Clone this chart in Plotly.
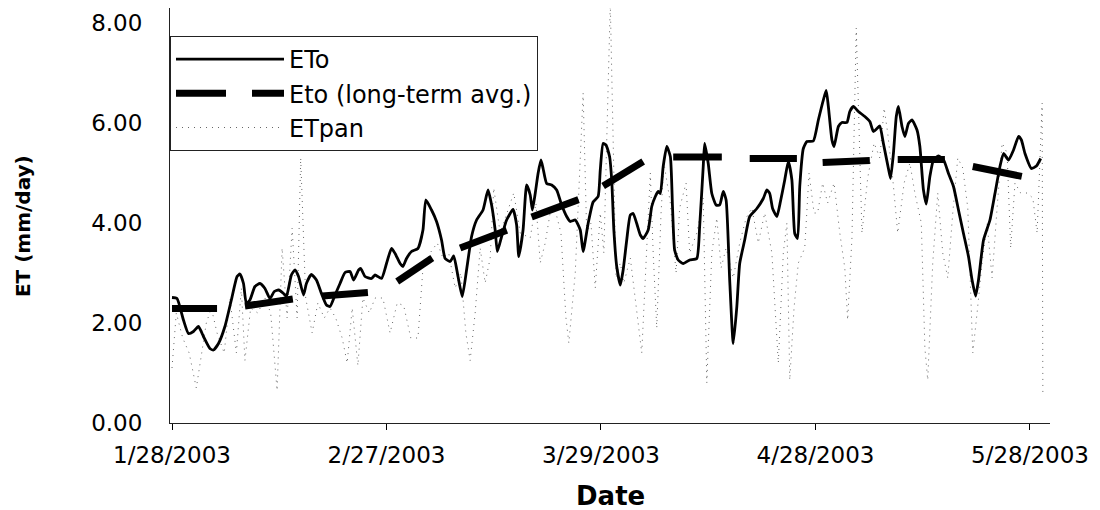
import pandas as pd
import plotly.graph_objects as go

# ---------------- data (days after 1/28/2003, mm/day) ----------------
eto_day = [0.0, 0.7, 1.6, 2.3, 3.0, 3.7, 4.4, 5.3, 5.8, 6.5, 7.4, 8.3, 9.1, 9.5, 10.0, 10.4, 10.9,
           11.6, 12.3, 13.0, 13.7, 14.3, 14.9, 15.6, 16.0, 16.7, 17.2, 17.7, 18.4, 18.8, 19.5, 20.2,
           20.9, 21.6, 22.1, 22.8, 23.5, 24.2, 24.9, 25.4, 26.1, 26.4, 27.0, 27.9, 28.4, 29.3, 30.0,
           30.7, 31.2, 31.9, 32.3, 32.8, 33.5, 34.4, 35.1, 35.5, 36.3, 37.0, 37.7, 38.2, 38.9, 39.4,
           40.0, 40.6, 41.2, 41.9, 42.6, 43.5, 44.2, 44.7, 45.2, 45.5, 46.1, 46.8, 47.7, 48.2, 48.5,
           49.1, 49.6, 50.1, 50.4, 50.8, 51.2, 51.6, 51.9, 52.4, 53.1, 53.8, 54.5, 55.2, 55.7, 56.4,
           57.1, 57.5, 58.2, 58.9, 59.6, 59.9, 60.3, 60.7, 61.2, 61.5, 61.8, 62.2, 62.7, 63.1, 63.6,
           64.1, 64.5, 65.0, 65.5, 65.9, 66.6, 67.1, 67.6, 68.0, 68.3, 68.7, 69.2, 69.7, 70.0, 70.3,
           70.8, 71.5, 72.4, 73.4, 73.8, 74.3, 74.5, 75.0, 75.5, 76.1, 76.6, 77.1, 77.5, 78.0, 78.5,
           79.0, 79.4, 80.1, 80.8, 81.8, 82.7, 83.2, 83.6, 84.0, 84.6, 85.1, 85.7, 86.2, 86.7, 87.1,
           87.5, 87.8, 88.3, 88.8, 89.7, 90.4, 91.1, 91.5, 91.8, 92.3, 92.6, 93.2, 93.7, 94.4, 94.8,
           95.3, 96.0, 96.9, 97.6, 98.1, 98.6, 99.0, 99.5, 100.2, 100.5, 100.9, 101.3, 101.6, 102.1,
           102.5, 103.0, 103.5, 104.2, 104.6, 105.1, 105.5, 106.0, 106.5, 107.2, 107.9, 108.6, 109.3,
           110.0, 110.7, 111.4, 111.9, 112.4, 112.8, 113.5, 114.4, 115.1, 115.8, 116.3, 117.0, 117.7,
           118.4, 118.8, 119.3, 120.2, 120.9, 121.5]
eto_val = [2.51, 2.49, 2.06, 1.79, 1.83, 1.93, 1.73, 1.49, 1.46, 1.59, 1.93, 2.46, 2.93, 2.98, 2.79,
           2.39, 2.46, 2.73, 2.79, 2.69, 2.49, 2.63, 2.66, 2.59, 2.53, 2.96, 3.06, 2.93, 2.56, 2.79,
           2.97, 2.86, 2.59, 2.36, 2.33, 2.56, 2.79, 3.01, 3.03, 2.86, 3.06, 3.09, 2.93, 2.89, 2.96,
           2.89, 3.19, 3.49, 3.39, 3.19, 3.13, 3.29, 3.43, 3.49, 3.86, 4.46, 4.26, 4.03, 3.66, 3.29,
           3.23, 3.34, 2.93, 2.53, 3.06, 3.73, 4.06, 4.26, 4.66, 4.36, 3.86, 3.43, 3.73, 4.06, 4.27,
           3.96, 3.33, 3.86, 4.76, 4.56, 4.26, 4.59, 4.99, 5.26, 5.09, 4.79, 4.76, 4.66, 4.36, 4.13,
           4.03, 4.06, 3.86, 3.43, 3.99, 4.42, 4.53, 5.06, 5.59, 5.56, 5.33, 4.86, 3.86, 3.13, 2.76,
           3.06, 3.66, 4.16, 4.19, 3.99, 3.76, 3.69, 3.86, 4.33, 4.53, 4.63, 4.59, 5.13, 5.53, 5.33,
           4.33, 3.46, 3.26, 3.19, 3.26, 3.29, 3.93, 5.13, 5.59, 5.19, 4.59, 4.36, 4.36, 4.63, 4.46,
           2.86, 1.59, 2.33, 3.19, 3.66, 4.13, 4.29, 4.49, 4.66, 4.59, 4.29, 4.13, 4.43, 4.86, 5.23,
           4.86, 3.79, 3.69, 4.73, 5.49, 5.63, 5.64, 6.06, 6.46, 6.65, 6.33, 5.66, 5.53, 5.93, 6.01,
           6.01, 6.23, 6.33, 6.23, 6.13, 6.03, 5.83, 5.89, 5.94, 5.59, 5.09, 4.89, 5.39, 6.13, 6.33,
           5.93, 5.73, 5.99, 6.06, 5.86, 5.53, 4.66, 4.38, 4.93, 5.26, 5.34, 5.27, 4.99, 4.73, 4.26,
           3.79, 3.33, 2.86, 2.54, 2.86, 3.66, 4.06, 4.59, 5.13, 5.39, 5.26, 5.46, 5.73, 5.66, 5.39,
           5.09, 5.14, 5.29]

# long-term average: dash pieces (start day, end day, start value, end value)
avg_start_day = [0.0, 10.2, 21.0, 31.5, 40.3, 50.3, 60.3, 70.1, 80.8, 91.0, 101.5, 112.0]
avg_end_day = [6.3, 16.9, 27.4, 36.4, 46.9, 57.1, 65.9, 76.9, 87.4, 97.6, 108.1, 118.9]
avg_start_val = [2.29, 2.34, 2.54, 2.83, 3.50, 4.12, 4.74, 5.32, 5.29, 5.21, 5.27, 5.13]
avg_end_val = [2.29, 2.48, 2.61, 3.30, 3.86, 4.48, 5.23, 5.32, 5.29, 5.25, 5.27, 4.93]

pan_day = [0.0, 0.6, 1.5, 2.4, 3.4, 4.1, 4.8, 5.5, 6.3, 7.3, 8.1, 9.0, 9.7, 10.2, 11.0, 12.0, 13.0,
           13.8, 14.7, 15.4, 16.1, 16.8, 17.5, 18.0, 18.7, 19.6, 20.4, 21.3, 22.1, 22.9, 23.8, 24.5,
           25.2, 26.0, 26.7, 27.6, 28.4, 29.5, 30.5, 31.5, 32.4, 33.4, 34.4, 35.1, 36.1, 37.1, 37.9,
           38.7, 39.6, 40.4, 41.1, 41.7, 42.4, 43.1, 43.8, 44.5, 45.0, 45.9, 46.9, 47.8, 48.7, 50.1,
           50.9, 51.5, 52.2, 53.0, 53.7, 54.4, 55.1, 55.5, 56.4, 57.5, 58.0, 58.6, 59.2, 59.9, 60.4,
           61.3, 62.1, 62.7, 63.2, 64.1, 65.2, 65.7, 66.3, 66.9, 67.3, 67.8, 68.4, 68.8, 69.7, 70.5,
           71.0, 71.9, 72.4, 73.4, 74.3, 74.8, 75.5, 76.2, 76.8, 77.5, 78.5, 79.4, 80.3, 81.1, 82.0,
           82.9, 83.9, 84.8, 85.5, 86.0, 86.4, 87.0, 87.6, 88.5, 89.1, 89.8, 90.3, 91.0, 91.7, 92.6,
           93.4, 94.1, 94.5, 95.1, 95.7, 96.5, 97.3, 98.2, 99.0, 99.6, 100.1, 100.8, 101.5, 102.4,
           103.2, 103.9, 104.8, 105.3, 105.7, 106.4, 107.1, 107.8, 108.5, 109.2, 109.9, 110.6, 111.3,
           112.0, 112.6, 113.3, 114.0, 114.7, 115.4, 116.1, 116.8, 117.3, 117.9, 118.7, 119.6, 120.4,
           121.0, 121.7, 121.8]
pan_val = [1.1, 2.2, 1.7, 1.4, 0.7, 1.4, 2.0, 2.3, 1.8, 1.4, 2.5, 1.4, 2.7, 1.25, 2.3, 2.2, 2.5,
           2.2, 0.65, 3.5, 2.1, 3.9, 2.1, 5.3, 2.5, 1.8, 2.4, 2.1, 2.3, 2.1, 1.7, 1.2, 2.3, 1.15, 2.5,
           2.2, 2.5, 2.5, 1.8, 2.4, 2.35, 1.7, 1.7, 3.1, 3.4, 3.6, 3.3, 3.4, 2.7, 3.0, 1.8, 1.25, 2.2,
           3.5, 2.8, 3.3, 4.7, 3.8, 4.2, 4.6, 3.8, 3.7, 4.4, 3.2, 3.6, 4.3, 4.2, 3.8, 2.1, 1.6, 3.0,
           6.6, 3.8, 4.0, 2.7, 4.2, 3.4, 8.4, 2.9, 3.2, 2.8, 3.3, 2.0, 1.4, 3.2, 5.0, 3.4, 1.9, 4.2,
           5.2, 4.4, 3.0, 4.3, 4.8, 3.4, 3.8, 4.5, 0.8, 3.4, 4.1, 3.1, 3.5, 2.9, 3.6, 4.1, 4.3, 3.6,
           4.2, 3.4, 1.2, 3.4, 4.0, 0.86, 2.3, 3.2, 3.5, 5.0, 4.2, 4.2, 4.8, 4.4, 4.8, 3.8, 3.1, 2.06,
           3.7, 7.9, 3.8, 4.9, 5.6, 5.3, 6.3, 5.8, 4.9, 3.8, 4.8, 5.2, 4.6, 4.0, 1.5, 0.86, 3.2, 4.6,
           3.4, 2.9, 4.2, 5.3, 5.1, 4.3, 1.4, 2.2, 3.2, 4.0, 2.9, 4.3, 5.6, 5.4, 3.5, 4.8, 4.6, 4.6,
           4.5, 3.8, 6.4, 0.6]

tick_days = [0, 30, 60, 90, 120]
tick_text = ["1/28/2003", "2/27/2003", "3/29/2003", "4/28/2003", "5/28/2003"]
y_ticks = [0, 2, 4, 6, 8]

# ---------------- build ----------------
base = pd.Timestamp("2003-01-28")


def to_date(days):
    return [base + pd.to_timedelta(d, unit="D") for d in days]


avg_x, avg_y = [], []
for s, e, sv, ev in zip(avg_start_day, avg_end_day, avg_start_val, avg_end_val):
    avg_x += [base + pd.to_timedelta(s, unit="D"), base + pd.to_timedelta(e, unit="D"), None]
    avg_y += [sv, ev, None]

FONT = "DejaVu Sans"

fig = go.Figure()
fig.add_trace(go.Scatter(
    x=to_date(pan_day), y=pan_val, mode="lines", name="ETpan", legendrank=3,
    line=dict(color="#666666", width=1, dash="1px,5px"),
))
fig.add_trace(go.Scatter(
    x=to_date(eto_day), y=eto_val, mode="lines", name="ETo", legendrank=1,
    line=dict(color="black", width=2.8, shape="spline", smoothing=0.5),
))
fig.add_trace(go.Scatter(
    x=avg_x, y=avg_y, mode="lines", name="Eto (long-term avg.)", legendrank=2,
    connectgaps=False,
    line=dict(color="black", width=7, dash="50px,26px"),
))

x_lo = base + pd.to_timedelta(-0.28, unit="D")
x_hi = base + pd.to_timedelta(122.8, unit="D")

# the page body adds an 8px offset, so the figure is 8px smaller than the window
fig.update_layout(
    width=1092, height=502,
    margin=dict(l=162, r=50, t=0, b=87, autoexpand=False),
    paper_bgcolor="white", plot_bgcolor="white",
    font=dict(family=FONT, color="black"),
    showlegend=True,
    legend=dict(
        x=0.0, y=0.9325, xanchor="left", yanchor="top",
        font=dict(family=FONT, size=24, color="black"),
        bordercolor="#222222", borderwidth=1, bgcolor="white",
        itemwidth=108, traceorder="normal", tracegroupgap=0,
    ),
    xaxis=dict(
        type="date", range=[x_lo, x_hi], automargin=False,
        tickvals=to_date(tick_days), ticktext=tick_text,
        ticks="outside", ticklen=6, tickcolor="black", tickwidth=1,
        ticklabelstandoff=5,
        tickfont=dict(family=FONT, size=23, color="black"),
        showgrid=False, zeroline=False,
        showline=True, linecolor="#222222", linewidth=1,
    ),
    yaxis=dict(
        range=[0, 8.3], tickvals=y_ticks, tickformat=".2f", automargin=False,
        ticks="", ticklabelstandoff=22,
        tickfont=dict(family=FONT, size=23, color="black"),
        showgrid=False, zeroline=False,
        showline=True, linecolor="#222222", linewidth=1,
    ),
    annotations=[
        dict(text="Date", xref="paper", yref="paper", x=0.5, y=-0.177,
             xanchor="center", yanchor="middle", showarrow=False,
             font=dict(family=FONT, size=26, color="black", weight="bold")),
        dict(text="ET (mm/day)", xref="paper", yref="paper", x=-0.167, y=0.4747,
             xanchor="center", yanchor="middle", showarrow=False, textangle=-90,
             borderpad=0,
             font=dict(family=FONT, size=20, color="black", weight="bold")),
    ],
)

fig.write_html("out.html")
